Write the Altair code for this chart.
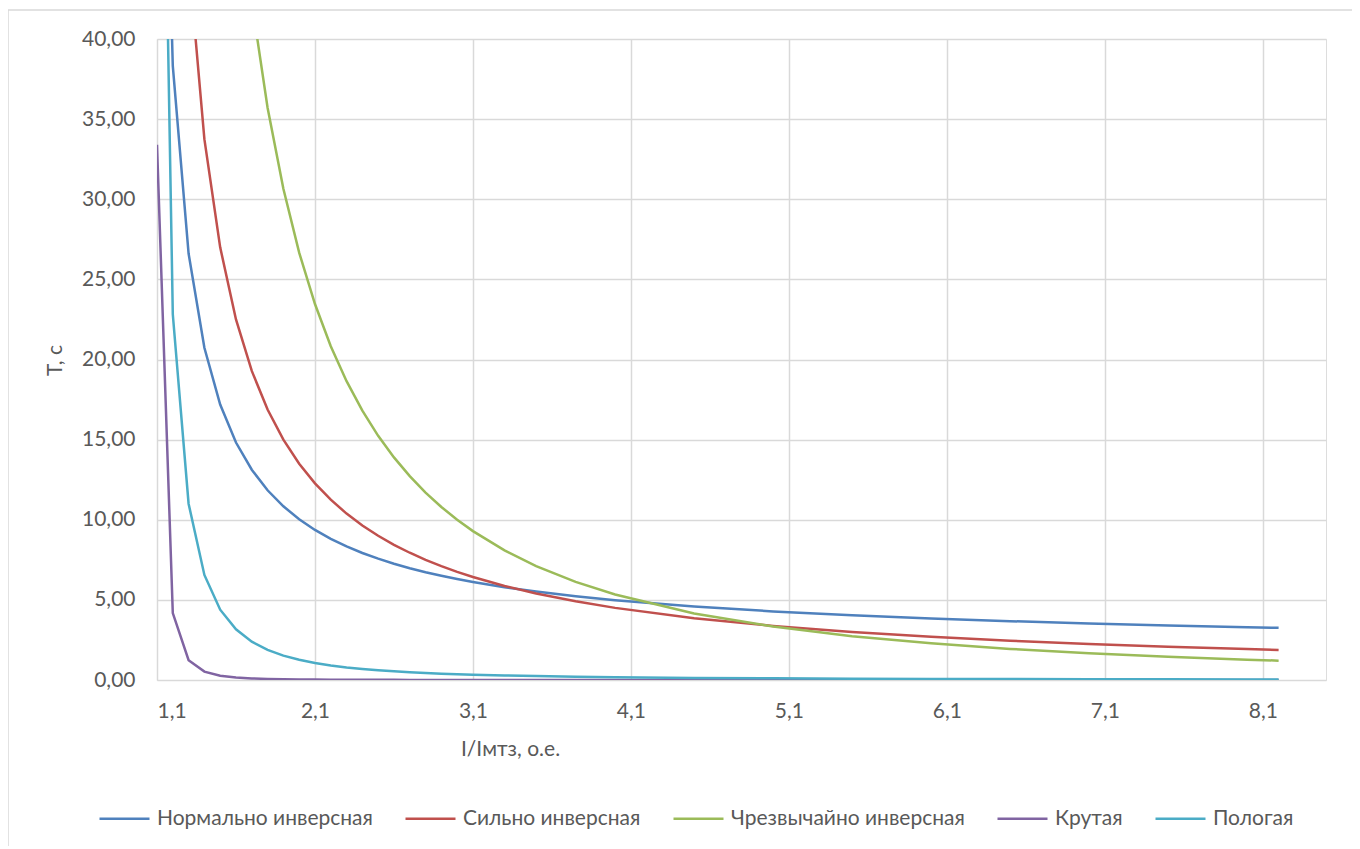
import altair as alt
import pandas as pd

# x values (I/Iмтз, о.е.)
x_vals = [1.1, 1.2, 1.3, 1.4, 1.5, 1.6, 1.7, 1.8, 1.9, 2.0,
          2.1, 2.2, 2.3, 2.4, 2.5, 2.6, 2.7, 2.8, 2.9, 3.0,
          3.1, 3.3, 3.5, 3.75, 4.0, 4.5, 5.0, 5.5, 6.0, 6.5,
          7.0, 7.5, 8.0, 8.2]

normal_inv = [73.37, 38.32, 26.61, 20.73, 17.19, 14.82, 13.12, 11.84, 10.84, 10.03,
              9.365, 8.809, 8.335, 7.926, 7.570, 7.257, 6.978, 6.729, 6.505, 6.302,
              6.118, 5.793, 5.518, 5.226, 4.980, 4.584, 4.280, 4.037, 3.837, 3.670,
              3.528, 3.405, 3.297, 3.257]

very_inv = [135.0, 67.5, 45.0, 33.75, 27.0, 22.5, 19.286, 16.875, 15.0, 13.5,
            12.273, 11.25, 10.385, 9.643, 9.0, 8.4375, 7.941, 7.5, 7.105, 6.75,
            6.429, 5.870, 5.4, 4.909, 4.5, 3.857, 3.375, 3.0, 2.7, 2.4545,
            2.25, 2.0769, 1.9286, 1.875]

extreme_inv = [380.95, 181.82, 115.94, 83.33, 64.0, 51.28, 42.33, 35.71, 30.65, 26.667,
               23.46, 20.833, 18.648, 16.807, 15.238, 13.889, 12.719, 11.696, 10.796, 10.0,
               9.2915, 8.089, 7.111, 6.124, 5.333, 4.156, 3.333, 2.735, 2.286, 1.939,
               1.667, 1.448, 1.270, 1.208]

steep = [33.4, 4.175, 1.237, 0.522, 0.267, 0.1546, 0.0974, 0.0652, 0.0458, 0.0334,
         0.0251, 0.0193, 0.0152, 0.0122, 0.0099, 0.0082, 0.0068, 0.0057, 0.0049, 0.0042,
         0.0036, 0.0027, 0.0021, 0.0016, 0.0012, 0.0008, 0.0005, 0.0004, 0.0003, 0.0002,
         0.0002, 0.0001, 0.0001, 0.0001]

flat = [79.5, 22.82, 11.00, 6.557, 4.388, 3.160, 2.394, 1.883, 1.523, 1.260,
        1.061, 0.9075, 0.7857, 0.6876, 0.6073, 0.5407, 0.4848, 0.4374, 0.3968, 0.3618,
        0.3314, 0.2813, 0.2421, 0.2040, 0.1744, 0.1322, 0.1039, 0.0841, 0.0695, 0.0586,
        0.0501, 0.0434, 0.0379, 0.0361]

series_names = ["Нормально инверсная", "Сильно инверсная", "Чрезвычайно инверсная",
                "Крутая", "Пологая"]
series_colors = ["#4F81BD", "#C0504D", "#9BBB59", "#8064A2", "#4BACC6"]
y_ticks = [0, 5, 10, 15, 20, 25, 30, 35, 40]
x_ticks = [1.1, 2.1, 3.1, 4.1, 5.1, 6.1, 7.1, 8.1]

series_values = [normal_inv, very_inv, extreme_inv, steep, flat]
rows = []
for name, vals in zip(series_names, series_values):
    for i, (xv, yv) in enumerate(zip(x_vals, vals)):
        rows.append({"x": xv, "T": yv, "series": name, "order": i})
df = pd.DataFrame(rows)

FONT = "Lato"
FS = 21
GRAY = "#d9d9d9"
TXT = "#595959"
W, H = 1169, 641

lines = alt.Chart(df).mark_line(clip=True, strokeWidth=2.5).encode(
    x=alt.X("x:Q",
            scale=alt.Scale(domain=[1.1, 8.5], nice=False, zero=False),
            axis=alt.Axis(values=x_ticks, grid=True, gridColor=GRAY, gridWidth=1.5,
                          domain=False, ticks=False, labelPadding=20,
                          labelExpr="replace(format(datum.value, '.1f'), '.', ',')",
                          labelFont=FONT, labelFontSize=FS, labelColor=TXT,
                          title="I/Iмтз, о.е.", titleFont=FONT, titleFontSize=FS,
                          titleFontWeight="normal", titleColor=TXT,
                          titleX=353, titleY=58, titleAlign="center")),
    y=alt.Y("T:Q",
            scale=alt.Scale(domain=[0, 40], nice=False),
            axis=alt.Axis(values=y_ticks, grid=True, gridColor=GRAY, gridWidth=1.5,
                          domain=False, ticks=False, labelPadding=22,
                          labelExpr="replace(format(datum.value, '.2f'), '.', ',')",
                          labelFont=FONT, labelFontSize=FS, labelColor=TXT,
                          title="T, c", titleFont=FONT, titleFontSize=FS,
                          titleFontWeight="normal", titleColor=TXT,
                          titleX=-102, titleY=321, titleAngle=270,
                          titleAlign="center", titleBaseline="middle")),
    color=alt.Color("series:N",
                    scale=alt.Scale(domain=series_names, range=series_colors),
                    sort=series_names,
                    legend=alt.Legend(title=None, orient="none", direction="horizontal",
                                      legendX=-59, legendY=753,
                                      symbolType="stroke", symbolSize=2500,
                                      symbolStrokeWidth=2.5, labelFont=FONT,
                                      labelFontSize=FS, labelColor=TXT, labelLimit=0,
                                      labelOffset=6, columnPadding=27,
                                      columns=5)),
    order="order:Q",
    detail="series:N",
)

frame = alt.Chart(pd.DataFrame({"a": [0]})).mark_rect(
    fill=None, stroke=GRAY, strokeWidth=1.5, clip=False
).encode(x=alt.value(-149), x2=alt.value(1300), y=alt.value(-29), y2=alt.value(900))

chart = alt.layer(frame, lines).properties(
    width=W, height=H,
    autosize=alt.AutoSizeParams(type="none"),
    padding={"left": 149, "top": 31, "right": 26, "bottom": 166},
).configure_view(stroke=None).configure(background="white")

chart.save("out.html", embed_options={"renderer": "svg", "actions": False})
